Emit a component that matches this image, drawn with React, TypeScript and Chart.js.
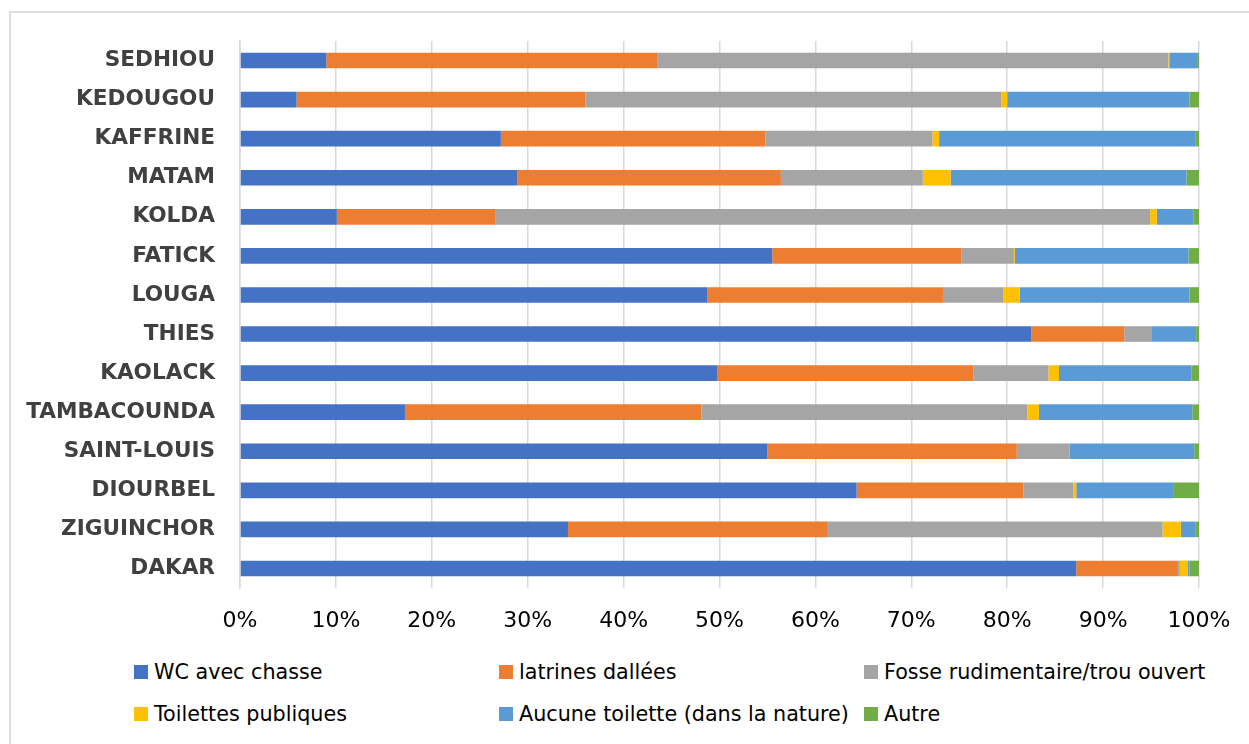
import React, { useEffect, useRef } from "react";
import { Chart, registerables } from "chart.js";

Chart.register(...registerables);

const regions = [
  "SEDHIOU", "KEDOUGOU", "KAFFRINE", "MATAM", "KOLDA", "FATICK", "LOUGA",
  "THIES", "KAOLACK", "TAMBACOUNDA", "SAINT-LOUIS", "DIOURBEL", "ZIGUINCHOR", "DAKAR",
];

const wcAvecChasse = [9.0, 5.9, 27.2, 28.9, 10.1, 55.5, 48.7, 82.5, 49.8, 17.2, 55.0, 64.3, 34.2, 87.2];
const latrinesDallees = [34.5, 30.1, 27.6, 27.5, 16.5, 19.7, 24.6, 9.7, 26.7, 30.9, 26.0, 17.4, 27.1, 10.6];
const fosseRudimentaire = [53.3, 43.4, 17.4, 14.8, 68.3, 5.5, 6.3, 2.9, 7.8, 34.0, 5.5, 5.2, 34.9, 0.2];
const toilettesPubliques = [0.1, 0.6, 0.7, 2.9, 0.7, 0.1, 1.7, 0.0, 1.1, 1.2, 0.0, 0.3, 1.9, 0.8];
const aucuneToilette = [2.9, 19.0, 26.7, 24.6, 3.8, 18.1, 17.7, 4.6, 13.8, 16.0, 13.0, 10.1, 1.5, 0.2];
const autre = [0.2, 1.0, 0.4, 1.3, 0.6, 1.1, 1.0, 0.3, 0.8, 0.7, 0.5, 2.7, 0.4, 1.0];

const seriesNames = [
  "WC avec chasse",
  "latrines dallées",
  "Fosse rudimentaire/trou ouvert",
  "Toilettes publiques",
  "Aucune toilette (dans la nature)",
  "Autre",
];
const seriesColors = ["#4472C4", "#ED7D31", "#A5A5A5", "#FFC000", "#5B9BD5", "#70AD47"];
const seriesValues = [wcAvecChasse, latrinesDallees, fosseRudimentaire, toilettesPubliques, aucuneToilette, autre];

const xTicks = [0, 10, 20, 30, 40, 50, 60, 70, 80, 90, 100];

const FONT = "'DejaVu Sans', sans-serif";

export default function App() {
  const canvasRef = useRef<HTMLCanvasElement | null>(null);

  useEffect(() => {
    document.body.style.margin = "0";
    const canvas = canvasRef.current;
    if (!canvas) return;
    const chart = new Chart(canvas, {
      type: "bar",
      data: {
        labels: regions,
        datasets: seriesNames.map((name, i) => ({
          label: name,
          data: seriesValues[i],
          backgroundColor: seriesColors[i],
          borderWidth: 0,
          categoryPercentage: 1,
          barPercentage: 0.4,
        })),
      },
      options: {
        indexAxis: "y",
        animation: false,
        responsive: false,
        maintainAspectRatio: false,
        layout: { padding: { left: 20, top: 41, right: 50, bottom: 0 } },
        plugins: {
          legend: { display: false },
          tooltip: { enabled: false },
        },
        scales: {
          x: {
            stacked: true,
            min: 0,
            max: 100,
            afterBuildTicks: (scale: any) => {
              scale.ticks = xTicks.map((v) => ({ value: v }));
            },
            afterFit: (scale: any) => {
              scale.height = 52;
              scale.paddingRight = 0;
              scale.paddingLeft = 0;
            },
            ticks: {
              callback: (v: any) => v + "%",
              color: "#000000",
              font: { family: FONT, size: 22 },
              padding: 20,
              maxRotation: 0,
              autoSkip: false,
            },
            grid: { color: "#d9d9d9", lineWidth: 1.5, drawTicks: false },
            border: { display: false },
          },
          y: {
            stacked: true,
            afterFit: (scale: any) => {
              scale.width = 220;
            },
            ticks: {
              color: "#404040",
              font: { family: FONT, size: 21.6, weight: "bold" },
              padding: 25,
              autoSkip: false,
            },
            grid: { display: false, drawTicks: false },
            border: { display: true, color: "#d9d9d9", width: 1.5 },
          },
        },
      },
    });
    return () => chart.destroy();
  }, []);

  const legendCols = [134, 499, 864];
  const legendRows = [672, 714];

  return (
    <div style={{ position: "fixed", left: 0, top: 0, width: 1249, height: 744, overflow: "hidden", background: "#fff" }}>
      <div
        style={{
          position: "absolute",
          left: 9,
          top: 11,
          width: 1260,
          height: 760,
          border: "2px solid #dedede",
          boxSizing: "border-box",
        }}
      />
      <canvas
        ref={canvasRef}
        width={1249}
        height={640}
        style={{ position: "absolute", left: 0, top: 0, width: 1249, height: 640 }}
      />
      {seriesNames.map((name, i) => {
        const col = i % 3;
        const row = Math.floor(i / 3);
        return (
          <div
            key={name}
            style={{
              position: "absolute",
              left: legendCols[col],
              top: legendRows[row] - 15,
              height: 30,
              display: "flex",
              alignItems: "center",
              fontFamily: FONT,
              fontSize: 20.7,
              color: "#000",
              whiteSpace: "nowrap",
            }}
          >
            <span
              style={{
                display: "inline-block",
                width: 14,
                height: 14,
                background: seriesColors[i],
                marginRight: 6,
              }}
            />
            <span>{name}</span>
          </div>
        );
      })}
    </div>
  );
}
